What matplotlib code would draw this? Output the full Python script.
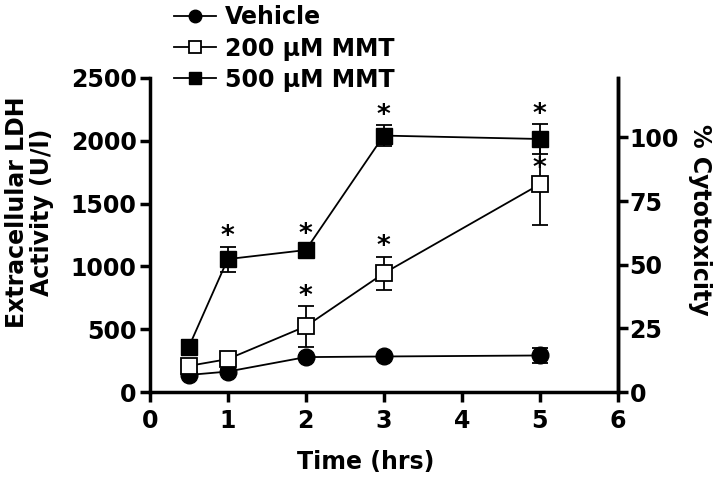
import numpy as np
import matplotlib.pyplot as plt
from matplotlib.lines import Line2D

plt.rcParams['font.family'] = ['DejaVu Sans']
plt.rcParams['font.weight'] = 'bold'

# time points (hrs)
time = [0.5, 1, 2, 3, 5]

# extracellular LDH activity (U/l)
vehicle = [136, 163, 278, 283, 291]
vehicle_err = [20, 20, 15, 15, 56]
mmt200 = [208, 262, 523, 945, 1653]
mmt200_err = [40, 30, 161, 133, 323]
mmt500 = [358, 1058, 1130, 2041, 2014]
mmt500_err = [60, 100, 20, 83, 116]

# significance stars: None = no star, 'bar' = above error bar, 'mark' = above marker
star200 = [None, None, 'bar', 'bar', 'mark']
star500 = [None, 'bar', 'mark', 'bar', 'bar']

fig = plt.figure(figsize=(7.2, 4.84), dpi=100)
ax = fig.add_axes([0.208, 0.19, 0.65, 0.649])

lw = 1.3
ax.errorbar(time, vehicle, yerr=vehicle_err, color='black', lw=lw, marker='o',
            ms=12, capsize=6, capthick=lw, elinewidth=lw, zorder=3)
ax.errorbar(time, mmt200, yerr=mmt200_err, color='black', lw=lw, marker='s',
            ms=11.5, mfc='white', mec='black', mew=1.3, capsize=6, capthick=lw,
            elinewidth=lw, zorder=4)
ax.errorbar(time, mmt500, yerr=mmt500_err, color='black', lw=lw, marker='s',
            ms=11.5, capsize=6, capthick=lw, elinewidth=lw, zorder=5)

# asterisks
for vals, errs, stars in [(mmt200, mmt200_err, star200), (mmt500, mmt500_err, star500)]:
    for t, v, e, s in zip(time, vals, errs, stars):
        if s is None:
            continue
        base = v + e + 75 if s == 'bar' else v + 120
        ax.text(t, base, '*', ha='center', va='center', fontsize=19,
                fontweight='bold', zorder=6)

ax.set_xlim(0, 6)
ax.set_ylim(0, 2500)
ax.set_xticks(range(0, 7))
ax.set_yticks(range(0, 2501, 500))
ax.set_xlabel('Time (hrs)', fontsize=17, fontweight='bold', va='center')
ax.xaxis.set_label_coords(0.4615, -0.223)
ax.set_ylabel('Extracellular LDH\nActivity (U/l)', fontsize=17, fontweight='bold',
              linespacing=1.05, va='center')
ax.yaxis.set_label_coords(-0.256, 0.573)

ax.spines['top'].set_visible(False)
for side in ['left', 'bottom', 'right']:
    ax.spines[side].set_linewidth(2.5)
ax.tick_params(axis='x', width=2.5, length=7.5, labelsize=17, pad=5)
ax.tick_params(axis='y', width=2.5, length=7.5, labelsize=17, pad=2)

ax2 = ax.twinx()
ax2.set_ylim(0, 2500 / 2027 * 100)
ax2.set_yticks([0, 25, 50, 75, 100])
for side in ['top', 'left', 'bottom']:
    ax2.spines[side].set_visible(False)
ax2.spines['right'].set_linewidth(2.5)
ax2.tick_params(width=2.5, length=7.5, labelsize=17, pad=1)
ax2.set_ylabel('% Cytotoxicity', fontsize=17, fontweight='bold', rotation=270,
               va='center')
ax2.yaxis.set_label_coords(1.175, 0.548)

handles = [
    Line2D([], [], color='black', lw=lw, marker='o', ms=9),
    Line2D([], [], color='black', lw=lw, marker='s', ms=9, mfc='white', mew=1.3),
    Line2D([], [], color='black', lw=lw, marker='s', ms=9),
]
labels = ['Vehicle', '200 \u03bcM MMT', '500 \u03bcM MMT']
fig.legend(handles, labels, loc='upper left', bbox_to_anchor=(0.2225, 1.018),
           frameon=False, handlelength=1.75, handletextpad=0.4,
           labelspacing=0.3, borderpad=0.1,
           prop={'weight': 'bold', 'size': 17})

fig.savefig('out.png', dpi=100)
